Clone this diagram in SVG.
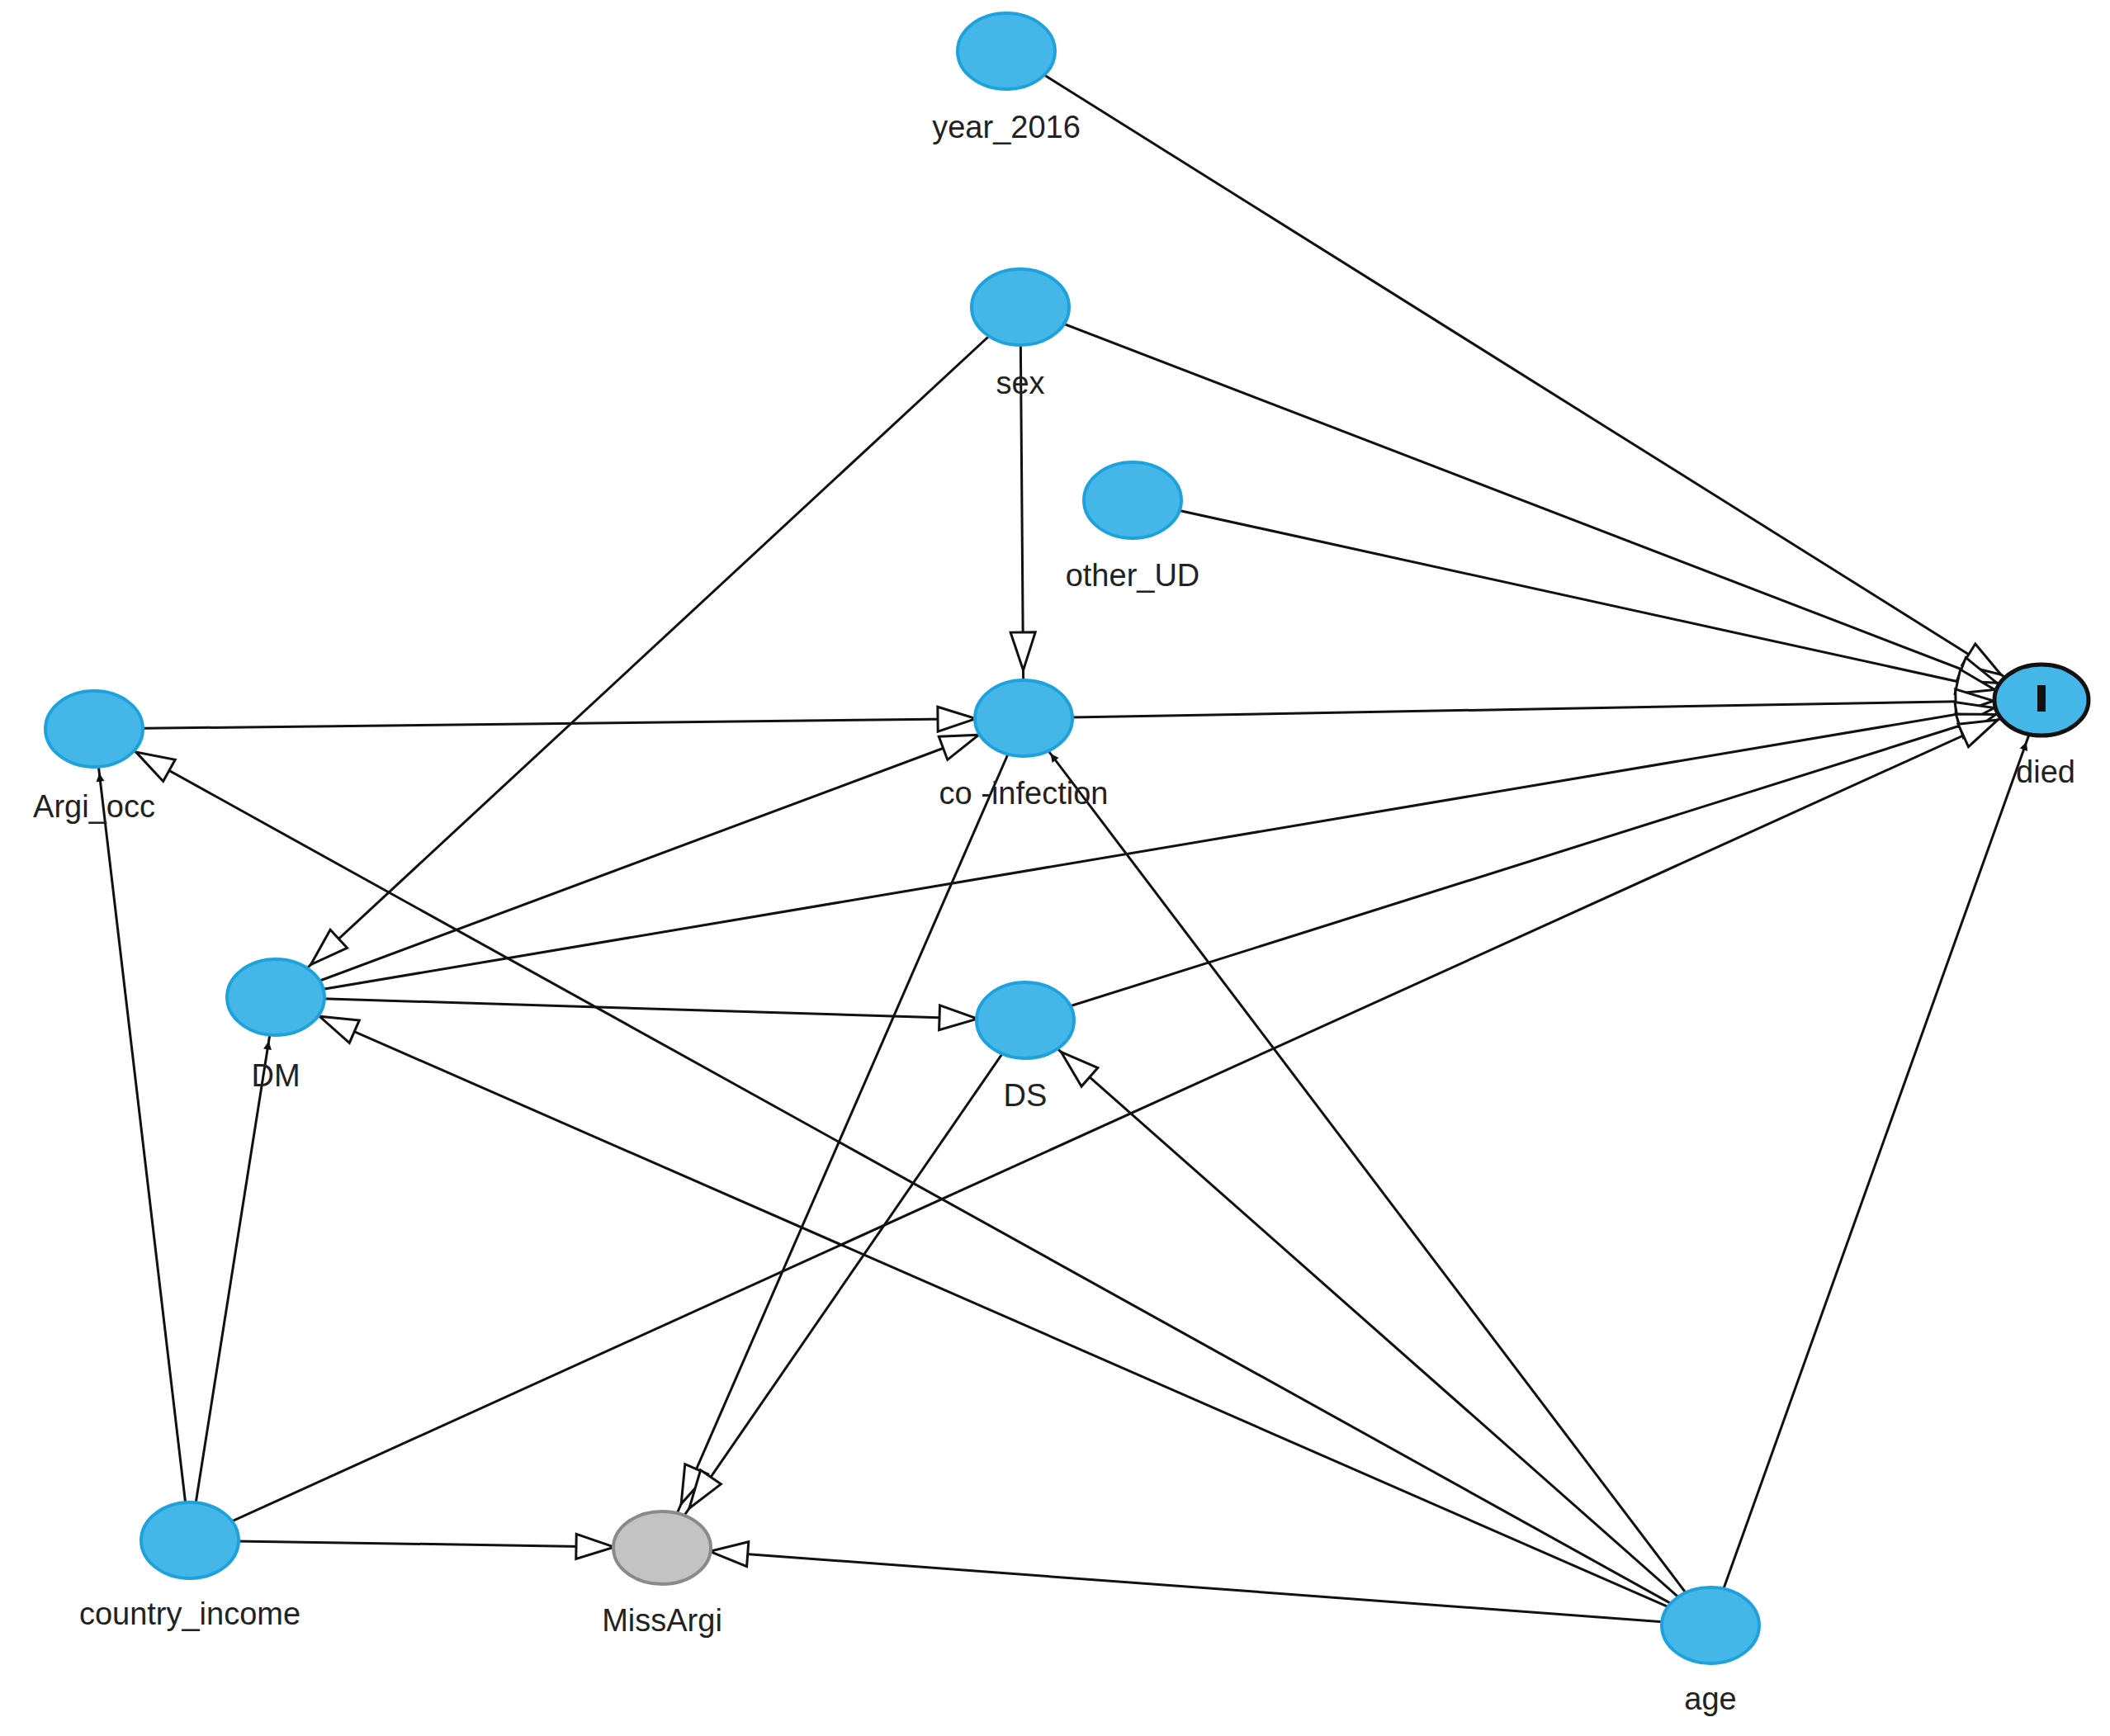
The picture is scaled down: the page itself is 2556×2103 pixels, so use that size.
<svg xmlns="http://www.w3.org/2000/svg" width="2556" height="2103" viewBox="0 0 2556 2103">
<style>
.n{fill:#45b6e8;stroke:#1da2de;stroke-width:4}
.m{fill:#c3c3c3;stroke:#8a8a8a;stroke-width:4}
.d{fill:#45b6e8;stroke:#111;stroke-width:5}
text{font-family:"Liberation Sans",Arial,sans-serif;font-size:38px;fill:#222;text-anchor:middle}
.e line{stroke:#111;stroke-width:3}
.b{marker-end:url(#big)}
.s{marker-end:url(#small)}
</style>
<defs>
<marker id="big" markerUnits="userSpaceOnUse" viewBox="-5 -5 120 40" refX="104" refY="15" markerWidth="120" markerHeight="40" orient="auto" overflow="visible">
<path d="M0,0 L46,15 L0,30 z" fill="#fff" stroke="#111" stroke-width="3"/>
</marker>
<marker id="small" markerUnits="userSpaceOnUse" viewBox="-5 -5 90 20" refX="64" refY="5" markerWidth="90" markerHeight="20" orient="auto" overflow="visible">
<path d="M0,0 L10,5 L0,10 z" fill="#111"/>
</marker>
</defs>
<g class="e" id="edges">
<line class="b" x1="1219" y1="62" x2="2473" y2="848"/>
<line class="b" x1="1236" y1="372" x2="2473" y2="848"/>
<line class="b" x1="1372" y1="606" x2="2473" y2="848"/>
<line class="b" x1="1240" y1="870" x2="2473" y2="848"/>
<line class="b" x1="334" y1="1208" x2="2473" y2="848"/>
<line class="b" x1="1242" y1="1236" x2="2473" y2="848"/>
<line class="b" x1="230" y1="1866" x2="2473" y2="848"/>
<line class="b" x1="1236" y1="372" x2="1240" y2="870"/>
<line class="b" x1="1236" y1="372" x2="334" y2="1208"/>
<line class="b" x1="114" y1="883" x2="1240" y2="870"/>
<line class="b" x1="334" y1="1208" x2="1240" y2="870"/>
<line class="b" x1="334" y1="1208" x2="1242" y2="1236"/>
<line class="b" x1="1240" y1="870" x2="802" y2="1875"/>
<line class="b" x1="1242" y1="1236" x2="802" y2="1875"/>
<line class="b" x1="230" y1="1866" x2="802" y2="1875"/>
<line class="b" x1="2072" y1="1969" x2="802" y2="1875"/>
<line class="b" x1="2072" y1="1969" x2="334" y2="1208"/>
<line class="b" x1="2072" y1="1969" x2="1242" y2="1236"/>
<line class="b" x1="2072" y1="1969" x2="114" y2="883"/>
<line class="s" x1="2072" y1="1969" x2="1240" y2="870"/>
<line class="s" x1="2072" y1="1969" x2="2473" y2="848"/>
<line class="s" x1="230" y1="1866" x2="114" y2="883"/>
<line class="s" x1="230" y1="1866" x2="334" y2="1208"/>
</g>
<g id="year_2016"><ellipse class="n" cx="1219" cy="62" rx="59" ry="46"/><text x="1219" y="167">year_2016</text></g>
<g id="sex"><ellipse class="n" cx="1236" cy="372" rx="59" ry="46"/><text x="1236" y="477">sex</text></g>
<g id="other_UD"><ellipse class="n" cx="1372" cy="606" rx="59" ry="46"/><text x="1372" y="710">other_UD</text></g>
<g id="Argi_occ"><ellipse class="n" cx="114" cy="883" rx="59" ry="46"/><text x="114" y="990">Argi_occ</text></g>
<g id="co-infection"><ellipse class="n" cx="1240" cy="870" rx="59" ry="46"/><text x="1240" y="974">co -infection</text></g>
<g id="died"><ellipse class="d" cx="2473" cy="848" rx="57" ry="43"/><rect x="2468" y="830" width="10" height="32" fill="#111"/><text x="2478" y="948">died</text></g>
<g id="DM"><ellipse class="n" cx="334" cy="1208" rx="59" ry="46"/><text x="334" y="1316">DM</text></g>
<g id="DS"><ellipse class="n" cx="1242" cy="1236" rx="59" ry="46"/><text x="1242" y="1340">DS</text></g>
<g id="country_income"><ellipse class="n" cx="230" cy="1866" rx="59" ry="46"/><text x="230" y="1968">country_income</text></g>
<g id="MissArgi"><ellipse class="m" cx="802" cy="1875" rx="59" ry="44"/><text x="802" y="1976">MissArgi</text></g>
<g id="age"><ellipse class="n" cx="2072" cy="1969" rx="59" ry="46"/><text x="2072" y="2071">age</text></g>
</svg>
